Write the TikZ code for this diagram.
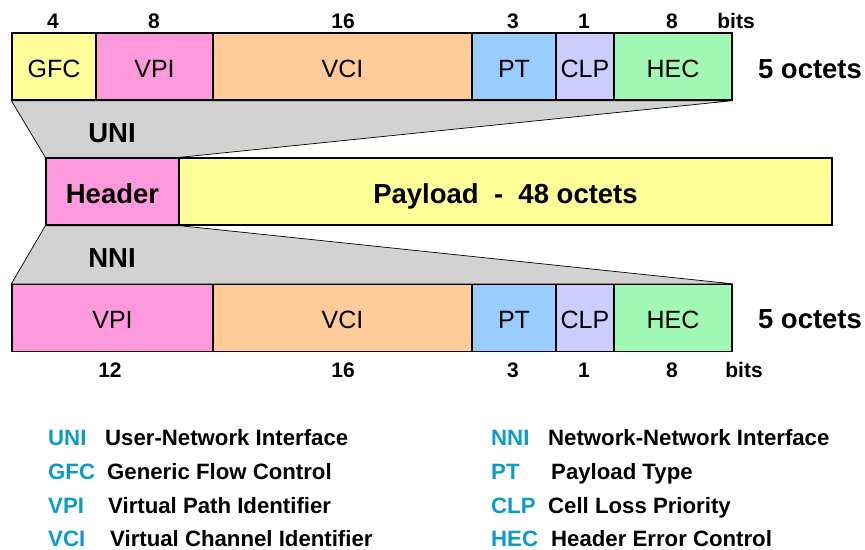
\documentclass[tikz,border=0pt]{standalone}
\usepackage{fontspec}
\setmainfont{Liberation Sans}
\usetikzlibrary{backgrounds}
\definecolor{cgfc}{HTML}{FFFF99}
\definecolor{cvpi}{HTML}{FF99DD}
\definecolor{cvci}{HTML}{FFCC99}
\definecolor{cpt}{HTML}{99CCFF}
\definecolor{cclp}{HTML}{CCCCFF}
\definecolor{chec}{HTML}{A0F8B4}
\definecolor{cgray}{HTML}{D2D2D2}
\definecolor{cblue}{HTML}{0A9BCB}
\tikzset{
  field/.style={draw=black, line width=1.3pt, minimum height=67pt, inner sep=0pt, text height=21.9pt, text depth=0pt, font=\fontsize{25}{29}\selectfont},
  bigfield/.style={field, text height=23.7pt, font=\bfseries\fontsize{27.5}{31}\selectfont},
  bitlbl/.style={font=\bfseries\fontsize{21}{25}\selectfont, inner sep=0pt, text height=15pt, text depth=0pt},
  octlbl/.style={font=\bfseries\fontsize{27.5}{31}\selectfont, inner sep=0pt, text height=19.7pt, text depth=0pt},
  iflbl/.style={font=\bfseries\fontsize{27.5}{31}\selectfont, inner sep=0pt, text height=19.7pt, text depth=0pt},
  trap/.style={fill=cgray, draw=black, line width=0.7pt},
  abbr/.style={font=\bfseries\fontsize{22.2}{26}\selectfont, text=cblue, anchor=base west, inner sep=0pt},
  desc/.style={font=\bfseries\fontsize{22.2}{26}\selectfont, anchor=base west, inner sep=0pt}
}
\begin{document}
\begin{tikzpicture}[x=1pt,y=-1pt]
\useasboundingbox (0,0) rectangle (865,549);
% top (UNI) row
\node[field, fill=cgfc, minimum width=84pt] (gfc) at (54,66.5) {GFC};
\node[field, fill=cvpi, minimum width=117pt] (vpi) at (154.5,66.5) {VPI};
\node[field, fill=cvci, minimum width=259pt] (vci) at (342.5,66.5) {VCI};
\node[field, fill=cpt, minimum width=84pt] (pt) at (514,66.5) {PT};
\node[field, fill=cclp, minimum width=58pt] (clp) at (585,66.5) {CLP};
\node[field, fill=chec, minimum width=118pt] (hec) at (673,66.5) {HEC};
% middle cell
\node[bigfield, fill=cvpi, minimum width=133pt] (header) at (112.5,191.5) {Header};
\node[bigfield, fill=cgfc, minimum width=653pt] (payload) at (505.5,191.5) {Payload\ \ -\ \ 48 octets};
% bottom (NNI) row
\node[field, fill=cvpi, minimum width=201pt] (nvpi) at (112.5,318) {VPI};
\node[field, fill=cvci, minimum width=259pt] (nvci) at (342.5,318) {VCI};
\node[field, fill=cpt, minimum width=84pt] (npt) at (514,318) {PT};
\node[field, fill=cclp, minimum width=58pt] (nclp) at (585,318) {CLP};
\node[field, fill=chec, minimum width=118pt] (nhec) at (673,318) {HEC};
% trapezoids
\begin{scope}[on background layer]
\filldraw[trap] (gfc.south west) -- (hec.south east) -- (header.north east) -- (header.north west) -- cycle;
\filldraw[trap] (header.south west) -- (header.south east) -- (nhec.north east) -- (nvpi.north west) -- cycle;
\end{scope}
\node[iflbl] (uni) at (112,132.5) {UNI};
\node[iflbl] (nni) at (112,258) {NNI};
% bit counts top
\node[bitlbl] (t4) at (53,21) {4};
\node[bitlbl] (t8) at (154,21) {8};
\node[bitlbl] (t16) at (343,21) {16};
\node[bitlbl] (t3) at (513,21) {3};
\node[bitlbl] (t1) at (584,21) {1};
\node[bitlbl] (t8b) at (672,21) {8};
\node[bitlbl] (tbits) at (736,21) {bits};
% bit counts bottom
\node[bitlbl] (b12) at (110,369.5) {12};
\node[bitlbl] (b16) at (343,369.5) {16};
\node[bitlbl] (b3) at (513,369.5) {3};
\node[bitlbl] (b1) at (584,369.5) {1};
\node[bitlbl] (b8) at (672,369.5) {8};
\node[bitlbl] (bbits) at (744,369.5) {bits};
% octets
\node[octlbl] (o1) at (810,68.5) {5 octets};
\node[octlbl] (o2) at (810,318.5) {5 octets};
% legend
\node[abbr] (l1a) at (48,445) {UNI};
\node[desc] (l1d) at (105,445) {User-Network Interface};
\node[abbr] (l2a) at (48,479) {GFC};
\node[desc] (l2d) at (107,479) {Generic Flow Control};
\node[abbr] (l3a) at (48,513) {VPI};
\node[desc] (l3d) at (108,513) {Virtual Path Identifier};
\node[abbr] (l4a) at (48,546) {VCI};
\node[desc] (l4d) at (110,546) {Virtual Channel Identifier};
\node[abbr] (r1a) at (491,445) {NNI};
\node[desc] (r1d) at (548,445) {Network-Network Interface};
\node[abbr] (r2a) at (491,479) {PT};
\node[desc] (r2d) at (551,479) {Payload Type};
\node[abbr] (r3a) at (491,513) {CLP};
\node[desc] (r3d) at (548,513) {Cell Loss Priority};
\node[abbr] (r4a) at (491,546) {HEC};
\node[desc] (r4d) at (551,546) {Header Error Control};
\end{tikzpicture}
\end{document}
